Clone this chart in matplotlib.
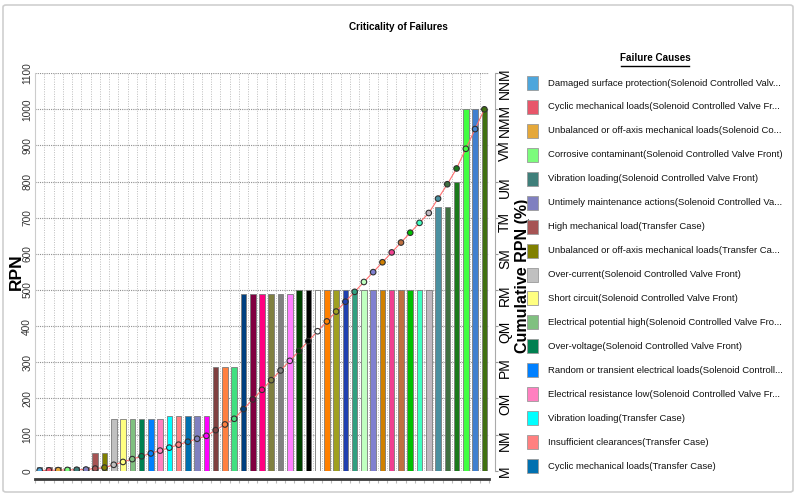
import numpy as np
import matplotlib
matplotlib.use("Agg")
import matplotlib.pyplot as plt
from matplotlib.patches import Rectangle, FancyBboxPatch
from matplotlib.lines import Line2D

plt.rcParams['font.family'] = ['Liberation Sans', 'DejaVu Sans']

# ------------------ data ------------------
rpn = [10, 10, 10, 10, 10, 10, 48, 48,
       144, 144, 144, 144, 144, 144,
       150, 150, 150, 150, 150,
       288, 288, 288,
       490, 490, 490, 490, 490, 490,
       500, 500, 500, 500, 500, 500, 500, 500, 500, 500, 500, 500, 500, 500, 500,
       729, 729, 800, 1000, 1000, 1000]

bar_colors = ['#4EA6DC', '#E8566A', '#E5A83A', '#7CFC7C', '#3F7F7A', '#8080C0',
              '#A65454', '#808000', '#C0C0C0', '#FFFF80', '#80C080', '#008050',
              '#0080FF', '#FF80C0', '#00FFFF', '#FF8080', '#0070B0', '#8080C0',
              '#FF00FF', '#804040', '#FF8040', '#40E080', '#004080', '#800040',
              '#FF0080', '#808040', '#808080', '#FF80FF', '#004000', '#000000',
              '#FFFFFF', '#FF8000', '#A0A020', '#2040B0', '#30A080', '#C0FFC0',
              '#8080D0', '#D08000', '#F04090', '#C07040', '#00C000', '#40FFC0',
              '#C0B8C0', '#4A90A0', '#407040', '#1A7A1A', '#40FF40', '#4080D0',
              '#407010']

causes = [
    'Damaged surface protection(Solenoid Controlled Valv...',
    'Cyclic mechanical loads(Solenoid Controlled Valve Fr...',
    'Unbalanced or off-axis mechanical loads(Solenoid Co...',
    'Corrosive contaminant(Solenoid Controlled Valve Front)',
    'Vibration loading(Solenoid Controlled Valve Front)',
    'Untimely maintenance actions(Solenoid Controlled Va...',
    'High mechanical load(Transfer Case)',
    'Unbalanced or off-axis mechanical loads(Transfer Ca...',
    'Over-current(Solenoid Controlled Valve Front)',
    'Short circuit(Solenoid Controlled Valve Front)',
    'Electrical potential high(Solenoid Controlled Valve Fro...',
    'Over-voltage(Solenoid Controlled Valve Front)',
    'Random or transient electrical loads(Solenoid Controll...',
    'Electrical resistance low(Solenoid Controlled Valve Fr...',
    'Vibration loading(Transfer Case)',
    'Insufficient clearances(Transfer Case)',
    'Cyclic mechanical loads(Transfer Case)',
]

left_ticks = list(range(0, 1200, 100))
right_labels = ['M', 'NM', 'OM', 'PM', 'QM', 'RM', 'SM', 'TM', 'UM', 'VM', 'NMM', 'NNM']

# cumulative RPN, drawn on the left scale (100 % = 1000)
cum = np.cumsum(rpn) / np.sum(rpn) * 1000

# ------------------ figure ------------------
W, H = 800, 500
fig = plt.figure(figsize=(8, 5), dpi=100)

frame = FancyBboxPatch((3 / W, 8 / H), 790 / W, 487 / H, boxstyle='round,pad=0,rounding_size=0.004',
                       transform=fig.transFigure, fill=False, ec='#CFCFCF', lw=1.2)
fig.patches.append(frame)

ax = fig.add_axes([35 / W, 1 - 470.7 / H, (489 - 35) / W, (470.7 - 73.2) / H])
x = np.arange(len(rpn))

ax.bar(x, rpn, width=0.6, color=bar_colors, edgecolor='#7A7A7A', linewidth=0.6, zorder=3)
ax.plot(x, cum, color='#FF7070', lw=0.8, zorder=4)
ax.scatter(x, cum, s=16, c=bar_colors, edgecolors='#303030', linewidths=0.8, zorder=5)

ax.set_xlim(-0.5, len(rpn) - 0.5)
ax.set_ylim(0, 1100)
ax.set_xticks(np.arange(-0.5, len(rpn), 1))
ax.set_xticklabels([])
ax.tick_params(axis='x', length=3, color='#BBBBBB', direction='out', pad=1)
ax.set_yticks(left_ticks)
ax.set_yticklabels([str(v) for v in left_ticks], va='center', fontsize=7.3, color='#333333')
ax.tick_params(axis='y', length=0, pad=2, labelrotation=90)

ax.grid(axis='x', linestyle=(0, (1, 1.5)), color='#BDBDBD', lw=0.7, zorder=0)
ax.grid(axis='y', linestyle=(0, (1, 1)), color='#8F8F8F', lw=0.8, zorder=0)
ax.set_axisbelow(True)

for s in ['top', 'right']:
    ax.spines[s].set_visible(False)
ax.spines['left'].set_color('#CCCCCC')
ax.spines['bottom'].set_position(('outward', 6))
ax.spines['bottom'].set_color('#3A3A3A')
ax.spines['bottom'].set_linewidth(2)

ax.set_ylabel('RPN', fontsize=12.5, fontweight='bold')
ax.yaxis.set_label_coords(-0.024, 0.5)

ax2 = ax.twinx()
ax2.set_ylim(0, 1100)
ax2.set_yticks(left_ticks)
ax2.set_yticklabels(right_labels, va='center', fontsize=7)
ax2.tick_params(axis='y', length=2, color='#999999', pad=0.5, labelrotation=90)
for s in ['top', 'left', 'bottom']:
    ax2.spines[s].set_visible(False)
ax2.spines['right'].set_position(('outward', 4))
ax2.spines['right'].set_color('#AAAAAA')
ax2.set_ylabel('Cumulative RPN (%)', fontsize=11.5, fontweight='bold')
ax2.yaxis.set_label_coords(1.057, 0.49)

fig.text(398 / W, 1 - 27 / H, 'Criticality of Failures', ha='center', va='center',
         fontsize=7.2, fontweight='bold')

# ------------------ legend ------------------
fig.text(655 / W, 1 - 58 / H, 'Failure Causes', ha='center', va='center',
         fontsize=7.1, fontweight='bold')
fig.add_artist(Line2D([621 / W, 689 / W], [1 - 66 / H, 1 - 66 / H], color='black', lw=1,
                      transform=fig.transFigure))

for i, label in enumerate(causes):
    yc = 83 + i * 23.94
    fig.patches.append(Rectangle((527 / W, 1 - (yc + 7) / H), 11 / W, 14 / H, transform=fig.transFigure,
                                 facecolor=bar_colors[i], edgecolor='#9A9A9A', lw=0.6))
    fig.text(548 / W, 1 - yc / H, label, ha='left', va='center', fontsize=6.8, color='#111111')

fig.savefig('out.png', dpi=100)
